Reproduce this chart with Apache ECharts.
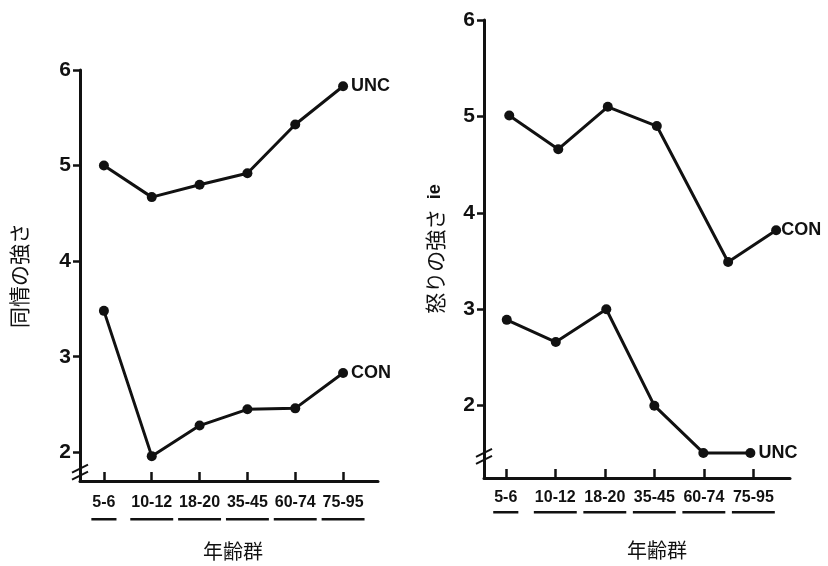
<!DOCTYPE html>
<html><head><meta charset="utf-8">
<script src="https://cdn.jsdelivr.net/npm/echarts@6/dist/echarts.min.js"></script>
<style>html,body{margin:0;padding:0;background:#fff}#c{width:828px;height:566px}</style>
</head><body><div id="c"></div>
<script>
// ---- data ----
const categories = ['5-6', '10-12', '18-20', '35-45', '60-74', '75-95'];
const xIndex = [0, 1, 2, 3, 4, 5];
const yTicks = [2, 3, 4, 5, 6];
// left panel: 同情の強さ (sympathy)
const sympUNC = [5.00, 4.67, 4.80, 4.92, 5.43, 5.83];
const sympCON = [3.48, 1.96, 2.28, 2.45, 2.46, 2.83];
// right panel: 怒りの強さ (anger)
const angerCON = [5.01, 4.66, 5.10, 4.90, 3.49, 3.82];
const angerCONx = [0.07, 1.06, 2.06, 3.05, 4.49, 5.46];
const angerUNC = [2.89, 2.66, 3.00, 2.00, 1.51, 1.51];
const angerUNCx = [0.02, 1.01, 2.03, 3.00, 3.99, 4.94];

const ink = '#111';
const latin = '"Liberation Sans", Arial, sans-serif';
const cjk = '"Noto Sans CJK JP", sans-serif';

const pairs = (xs, ys) => xs.map((x, i) => [x, ys[i]]);

function xAxisCfg(gi, min, max, margin, nameGap, namePadLeft) {
  return {
    type: 'value', gridIndex: gi, min: min, max: max,
    axisLine: {show: true, onZero: false, lineStyle: {color: ink, width: 3}},
    axisTick: {show: true, inside: true, length: 9, lineStyle: {color: ink, width: 2.5}, customValues: xIndex},
    axisLabel: {show: true, customValues: xIndex, margin: margin, color: ink,
      fontFamily: latin, fontWeight: 'bold', fontSize: 16,
      formatter: v => categories[Math.round(v)]},
    splitLine: {show: false},
    name: '年齢群', nameLocation: 'middle', nameGap: nameGap,
    nameTextStyle: {fontFamily: cjk, fontSize: 20, color: ink, padding: [0, 0, 0, namePadLeft]}
  };
}
function yAxisCfg(gi, min, name, nameGap) {
  return {
    type: 'value', gridIndex: gi, min: min, max: 6,
    axisLine: {show: true, onZero: false, lineStyle: {color: ink, width: 3}},
    axisTick: {show: true, length: 7, lineStyle: {color: ink, width: 2.5}, customValues: yTicks},
    axisLabel: {show: true, customValues: yTicks, margin: 9, color: ink,
      fontFamily: latin, fontWeight: 'bold', fontSize: 21},
    splitLine: {show: false},
    name: name, nameLocation: 'middle', nameGap: nameGap, nameRotate: 90,
    nameTextStyle: {fontFamily: cjk, fontSize: 21, color: ink,
      rich: {ie: {fontFamily: latin, fontWeight: 'bold', fontSize: 18, color: ink}}}
  };
}
function lineSeries(name, xi, data, dist) {
  return {
    type: 'line', name: name, xAxisIndex: xi, yAxisIndex: xi, data: data,
    symbol: 'circle', symbolSize: 10, showSymbol: true,
    lineStyle: {color: ink, width: 3}, itemStyle: {color: ink},
    endLabel: {show: true, formatter: '{a}', distance: dist, color: ink,
      fontFamily: latin, fontWeight: 'bold', fontSize: 18},
    animation: false, silent: true
  };
}

const chart = echarts.init(document.getElementById('c'));
chart.setOption({
  backgroundColor: '#fff',
  animation: false,
  grid: [
    {left: 80, top: 70, width: 298, height: 413},
    {left: 484, top: 20, width: 306, height: 458}
  ],
  xAxis: [xAxisCfg(0, -0.5, 5.73, 14, 60, 8), xAxisCfg(1, -0.44, 5.74, 12, 62, 40)],
  yAxis: [yAxisCfg(0, 1.7, '同情の強さ', 50), yAxisCfg(1, 1.25, '怒りの強さ  {ie|ie}', 38)],
  series: [
    lineSeries('UNC', 0, pairs(xIndex, sympUNC), 8),
    lineSeries('CON', 0, pairs(xIndex, sympCON), 8),
    lineSeries('CON', 1, pairs(angerCONx, angerCON), 5),
    lineSeries('UNC', 1, pairs(angerUNCx, angerUNC), 8)
  ]
});

// decorations: label underlines and axis break marks
const ctx = document.createElement('canvas').getContext('2d');
ctx.font = 'bold 16px "Liberation Sans"';
const g = [];
[[0, 483, 17], [1, 478, 15]].forEach(([gi, axisY, off]) => {
  categories.forEach((c, i) => {
    const px = chart.convertToPixel({xAxisIndex: gi}, i);
    const w = ctx.measureText(c).width + 2;
    g.push({type: 'rect', shape: {x: px - w / 2, y: axisY + off + 18, width: w, height: 2.5},
      style: {fill: ink}, silent: true});
  });
});
[[0, 1.83], [1, 1.51]].forEach(([gi, v]) => {
  const p = chart.convertToPixel({gridIndex: gi}, [gi === 0 ? -0.5 : -0.44, v]);
  [0, 7].forEach(dy => {
    g.push({type: 'line', shape: {x1: p[0] - 8, y1: p[1] + dy + 4, x2: p[0] + 8, y2: p[1] + dy - 4},
      style: {stroke: ink, lineWidth: 2}, silent: true});
  });
});
chart.setOption({graphic: g});
</script>
</body></html>
